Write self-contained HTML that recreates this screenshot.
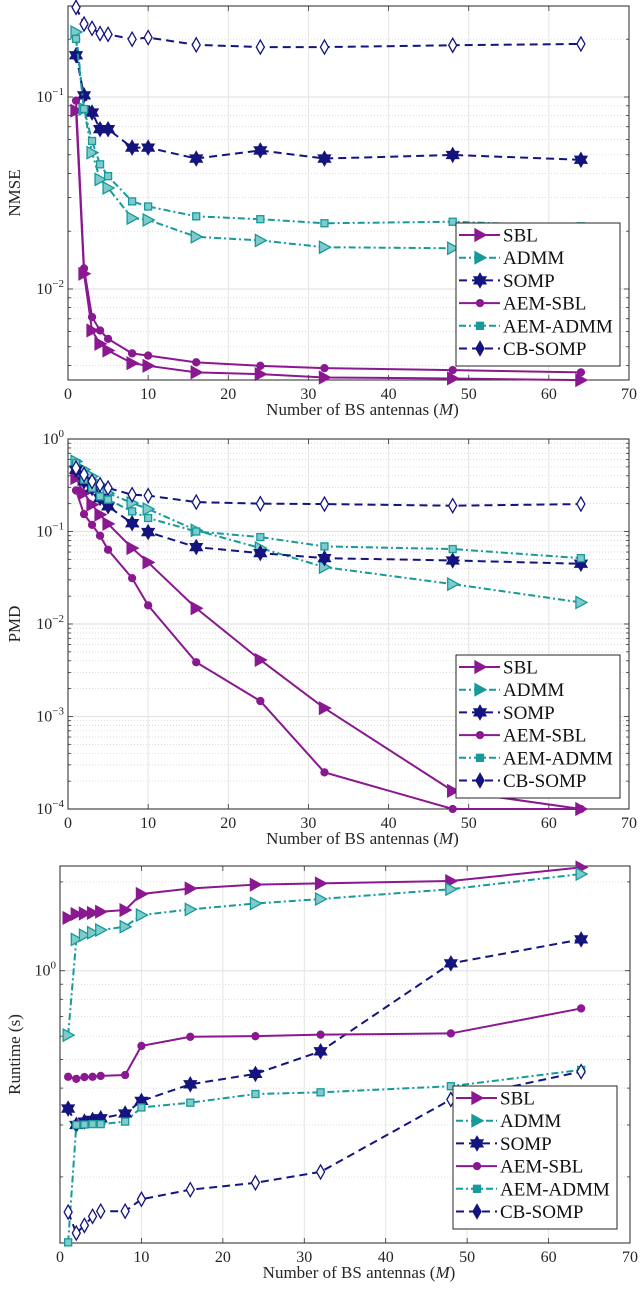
<!DOCTYPE html>
<html><head><meta charset="utf-8"><style>
body{margin:0;background:#fff;}
svg{display:block;font-family:"Liberation Serif",serif;}
</style></head><body>
<svg id="c" width="640" height="1294" viewBox="0 0 640 1294"></svg>
<script>
const xs=[1,2,3,4,5,8,10,16,24,32,48,64];
const xTicks=[0,10,20,30,40,50,60,70];
const names=["SBL","ADMM","SOMP","AEM-SBL","AEM-ADMM","CB-SOMP"];
// Panel 1 NMSE
const nmseSBL=[0.0849,0.0120,0.00608,0.00518,0.00478,0.00411,0.00398,0.00368,0.0036,0.00346,0.00342,0.00335];
const nmseADMM=[0.218,0.0866,0.0513,0.0372,0.0336,0.0234,0.0229,0.0187,0.0179,0.0165,0.0163,0.0158];
const nmseSOMP=[0.165,0.102,0.083,0.068,0.068,0.0545,0.0545,0.0478,0.0527,0.0478,0.0499,0.0471];
const nmseAEMSBL=[0.0957,0.0128,0.00714,0.00608,0.0055,0.00462,0.0045,0.00415,0.00398,0.00387,0.00378,0.00368];
const nmseAEMADMM=[0.201,0.0866,0.059,0.0446,0.0387,0.0286,0.0269,0.0239,0.0231,0.0220,0.0224,0.0212];
const nmseCBSOMP=[0.293,0.24,0.228,0.214,0.212,0.20,0.204,0.187,0.182,0.182,0.186,0.189];
// Panel 2 PMD
const pmdSBL=[0.378,0.26,0.195,0.152,0.121,0.0662,0.0463,0.0148,0.00409,0.00123,0.000157,0.0001];
const pmdADMM=[0.573,0.466,0.394,0.321,0.26,0.203,0.175,0.103,0.0662,0.0412,0.027,0.0171];
const pmdSOMP=[0.466,0.348,0.295,0.23,0.187,0.123,0.0986,0.0678,0.0584,0.0515,0.0486,0.0448];
const pmdAEMSBL=[0.278,0.154,0.118,0.09,0.0635,0.0313,0.0159,0.00386,0.00147,0.000249,0.0001,0.0001];
const pmdAEMADMM=[0.55,0.363,0.295,0.24,0.221,0.165,0.14,0.1,0.087,0.069,0.0646,0.0515];
const pmdCBSOMP=[0.485,0.411,0.348,0.321,0.295,0.25,0.244,0.208,0.2,0.198,0.19,0.198];
// Panel 3 Runtime
const rtSBL=[1.51,1.556,1.563,1.57,1.585,1.606,1.82,1.9,1.958,1.977,2.014,2.24];
const rtADMM=[0.605,1.277,1.32,1.345,1.374,1.41,1.544,1.614,1.69,1.75,1.89,2.127];
const rtSOMP=[0.341,0.3,0.308,0.312,0.316,0.328,0.362,0.412,0.447,0.533,1.059,1.277];
const rtAEMSBL=[0.437,0.43,0.436,0.437,0.44,0.443,0.556,0.597,0.6,0.607,0.613,0.745];
const rtAEMADMM=[0.12,0.3,0.301,0.302,0.302,0.308,0.344,0.357,0.382,0.387,0.406,0.461];
const rtCBSOMP=[0.152,0.129,0.137,0.147,0.153,0.153,0.168,0.181,0.191,0.208,0.366,0.455];

const NS="http://www.w3.org/2000/svg";
const svg=document.getElementById('c');
const PUR="#8a1890",TEAL="#169a9a",NAVY="#14147f";
const styles=[
 {c:PUR,d:"",m:"tri",f:PUR},
 {c:TEAL,d:"7,3,2,3",m:"tri",f:"#7fcaca"},
 {c:NAVY,d:"8,5",m:"star",f:NAVY},
 {c:PUR,d:"",m:"circ",f:PUR},
 {c:TEAL,d:"7,3,2,3",m:"sq",f:"#7fcaca"},
 {c:NAVY,d:"8,5",m:"dia",f:"#ffffff"}];
function el(tag,attrs,parent){const e=document.createElementNS(NS,tag);for(const k in attrs)e.setAttribute(k,attrs[k]);(parent||svg).appendChild(e);return e;}
function marker(g,type,x,y,st,legend){
 const a={stroke:st.c,"stroke-width":1.3,fill:legend&&type!=="sq"?st.c:st.f};
 let e;
 if(type==="tri"){e=el('polygon',Object.assign({points:`${x-5},${y-6} ${x+6},${y} ${x-5},${y+6}`},a),g);}
 else if(type==="circ"){e=el('circle',Object.assign({cx:x,cy:y,r:3.5},a),g);}
 else if(type==="sq"){e=el('rect',Object.assign({x:x-3.5,y:y-3.5,width:7,height:7},a,{fill:legend?st.c:st.f}),g);}
 else if(type==="dia"){e=el('polygon',Object.assign({points:`${x},${y-7} ${x+4},${y} ${x},${y+7} ${x-4},${y}`},a,{fill:legend?st.c:"#fff"}),g);}
 else {e=el('polygon',Object.assign({points:`${x},${y-7} ${x+2},${y-3.5} ${x+6},${y-3.5} ${x+4},${y} ${x+6},${y+3.5} ${x+2},${y+3.5} ${x},${y+7} ${x-2},${y+3.5} ${x-6},${y+3.5} ${x-4},${y} ${x-6},${y-3.5} ${x-2},${y-3.5}`},a),g);}
 
 
}
function panel(p){
 const g=el('g',{});
 
 
 const X=v=>p.l+(v-0)/70*(p.r-p.l);
 const Y=v=>p.b-(Math.log10(v)-p.lmin)/(p.lmax-p.lmin)*(p.b-p.t);
 // minor grid
 for(let e=Math.floor(p.lmin);e<=Math.ceil(p.lmax);e++){
  for(let k=1;k<10;k++){const v=k*Math.pow(10,e);const lv=Math.log10(v);
   if(lv<p.lmin-1e-6||lv>p.lmax+1e-6)continue;
   const y=Y(v);
   if(k===1){el('line',{x1:p.l,x2:p.r,y1:y,y2:y,stroke:"#e4e4e4","stroke-width":1.2},g);}
   else el('line',{x1:p.l,x2:p.r,y1:y,y2:y,stroke:"#cfcfcf","stroke-width":0.7,"stroke-dasharray":"1,2"},g);
   el('line',{x1:p.l,x2:p.l+(k===1?5:3),y1:y,y2:y,stroke:"#333","stroke-width":0.8},g);
   el('line',{x1:p.r,x2:p.r-(k===1?5:3),y1:y,y2:y,stroke:"#333","stroke-width":0.8},g);
  }}
 xTicks.forEach(t=>{const x=X(t);
  el('line',{x1:x,x2:x,y1:p.t,y2:p.b,stroke:"#e4e4e4","stroke-width":1},g);
  el('line',{x1:x,x2:x,y1:p.b,y2:p.b-5,stroke:"#333","stroke-width":0.8},g);
  el('line',{x1:x,x2:x,y1:p.t,y2:p.t+5,stroke:"#333","stroke-width":0.8},g);
  const tx=el('text',{x:x,y:p.b+19,"font-size":16,"text-anchor":"middle",fill:"#262626"},g);tx.textContent=t;
  
  
 });
 p.ylab.forEach(e=>{const y=Y(Math.pow(10,e));
  const tx=el('text',{x:p.l-4,y:y+5,"font-size":16,"text-anchor":"end",fill:"#262626"},g);
  
  
  const t1=el('tspan',{},tx);t1.textContent="10";
  const t2=el('tspan',{"font-size":11,dy:-7},tx);t2.textContent=String(e).replace('-','\u2212');
 });
 el('rect',{x:p.l,y:p.t,width:p.r-p.l,height:p.b-p.t,fill:"none",stroke:"#262626","stroke-width":1},g);
 // series
 const cp=el('clipPath',{id:'cp'+p.name},g);el('rect',{x:p.l-8,y:p.t-8,width:p.r-p.l+16,height:p.b-p.t+16},cp);
 const sg=el('g',{"clip-path":`url(#cp${p.name})`},g);
 p.data.forEach((d,i)=>{const st=styles[i];
  const pl=el('polyline',{points:xs.map((x,j)=>X(x)+','+Y(d[j])).join(' '),fill:"none",stroke:st.c,"stroke-width":2,"stroke-dasharray":st.d},sg);
  
  
  xs.forEach((x,j)=>marker(sg,st.m,X(x),Y(d[j]),st,false));
 });
 // axis labels
 const xl=el('text',{x:(p.l+p.r)/2+14,y:p.b+35,"font-size":17,"text-anchor":"middle",fill:"#262626"},g);
 
 
 const a=el('tspan',{},xl);a.textContent="Number of BS antennas (";
 const b=el('tspan',{"font-style":"italic"},xl);b.textContent="M";
 const c=el('tspan',{},xl);c.textContent=")";
 const yl=el('text',{x:0,y:0,"font-size":17,"text-anchor":"middle",fill:"#262626",transform:`translate(20,${(p.t+p.b)/2}) rotate(-90)`},g);
 yl.textContent=p.ytitle;
 
 
 // legend
 const lg=el('g',{},g);
 
 
 el('rect',{x:p.lx,y:p.ly,width:164,height:143,fill:"#fff",stroke:"#262626","stroke-width":1},lg);
 names.forEach((n,i)=>{const st=styles[i];const y=p.ly+12+i*22.7;
  const eg=el('g',{},lg);
  
  
  el('line',{x1:p.lx+3,x2:p.lx+44,y1:y,y2:y,stroke:st.c,"stroke-width":2,"stroke-dasharray":st.d},eg);
  marker(eg,st.m,p.lx+24,y,st,true);
  const t=el('text',{x:p.lx+47,y:y+6.5,"font-size":19,fill:"#111"},eg);t.textContent=n;
 });
}
panel({name:"nmse-panel",l:68,r:629,t:6,b:380,lmin:-2.474,lmax:-0.526,ylab:[-1,-2],ytitle:"NMSE",lx:456,ly:223,
 data:[nmseSBL,nmseADMM,nmseSOMP,nmseAEMSBL,nmseAEMADMM,nmseCBSOMP]});
panel({name:"pmd-panel",l:68,r:629,t:439,b:809,lmin:-4,lmax:0,ylab:[0,-1,-2,-3,-4],ytitle:"PMD",lx:456,ly:655,
 data:[pmdSBL,pmdADMM,pmdSOMP,pmdAEMSBL,pmdAEMADMM,pmdCBSOMP]});
panel({name:"runtime-panel",l:60,r:630,t:866,b:1243,lmin:-0.923,lmax:0.355,ylab:[0],ytitle:"Runtime (s)",lx:453,ly:1086,
 data:[rtSBL,rtADMM,rtSOMP,rtAEMSBL,rtAEMADMM,rtCBSOMP]});
</script>
</body></html>
